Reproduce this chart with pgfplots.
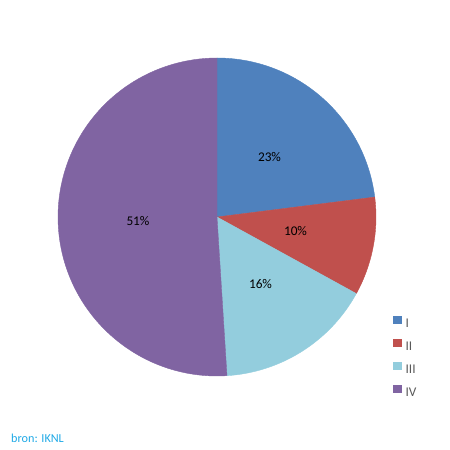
\documentclass[border=0pt]{standalone}
\usepackage{fontspec}
\setmainfont{Carlito}
\usepackage{pgfplots}
\usepackage{pgfplotstable}
\pgfplotsset{compat=1.18}

\definecolor{pie1}{HTML}{4F81BD}
\definecolor{pie2}{HTML}{C0504D}
\definecolor{pie3}{HTML}{93CDDD}
\definecolor{pie4}{HTML}{8064A2}
\definecolor{legtxt}{HTML}{595959}
\definecolor{srctxt}{HTML}{1FA9E6}

% slices: share in percent, start/end angle (clockwise from 12 o'clock)
\pgfplotstableread{
x   y   pct start end   idx
217 233 23  90    7.2   1
217 233 10  7.2   -28.8 2
217 233 16  -28.8 -86.4 3
217 233 51  -86.4 -270  4
}\piedata

\pgfplotstableread{
x     y     lab
269.5 292.5 23\%
295.5 218.5 10\%
260.5 165.5 16\%
138   229   51\%
}\labdata

\begin{document}
\begin{tikzpicture}
\begin{axis}[
  scale only axis, width=450pt, height=450pt,
  xmin=0, xmax=450, ymin=0, ymax=450,
  axis line style={draw=none}, xtick=\empty, ytick=\empty, clip=false,
  font=\fontsize{13.3}{16}\selectfont,
  legend style={at={(axis cs:393,134)}, anchor=north west, draw=none, fill=none,
    font=\fontsize{13.3}{16}\selectfont\color{legtxt}, row sep=12.1pt,
    inner sep=0pt,
    nodes={inner sep=0pt, text height=8.6pt, text depth=0pt},
    /tikz/every odd column/.append style={column sep=4pt}},
  legend cell align=left,
  legend image code/.code={\fill[#1] (0pt,-0.6pt) rectangle (8pt,6.4pt);},
]
\addplot[only marks, scatter, mark=none,
  visualization depends on={\thisrow{start} \as \sa},
  visualization depends on={\thisrow{end} \as \ea},
  visualization depends on={\thisrow{idx} \as \k},
  scatter/@pre marker code/.code={%
    \pgfmathtruncatemacro\kk{\k}%
    \fill[pie\kk] (0,0) -- (\sa:159pt) arc[start angle=\sa, end angle=\ea, radius=159pt] -- cycle;},
  scatter/@post marker code/.code={},
  forget plot]
  table[x=x, y=y] {\piedata};

\addplot[only marks, mark=none, nodes near coords,
  point meta=explicit symbolic, nodes near coords align={center},
  every node near coord/.append style={font=\fontsize{13.3}{16}\selectfont, inner sep=0pt},
  forget plot]
  table[x=x, y=y, meta=lab] {\labdata};

\addlegendimage{pie1}
\addlegendentry{I}
\addlegendimage{pie2}
\addlegendentry{II}
\addlegendimage{pie3}
\addlegendentry{III}
\addlegendimage{pie4}
\addlegendentry{IV}

\node[anchor=base west, text=srctxt, inner sep=0pt, font=\fontsize{12.2}{14}\selectfont]
  at (axis cs:11,8) {bron: IKNL};
\end{axis}
\end{tikzpicture}
\end{document}
